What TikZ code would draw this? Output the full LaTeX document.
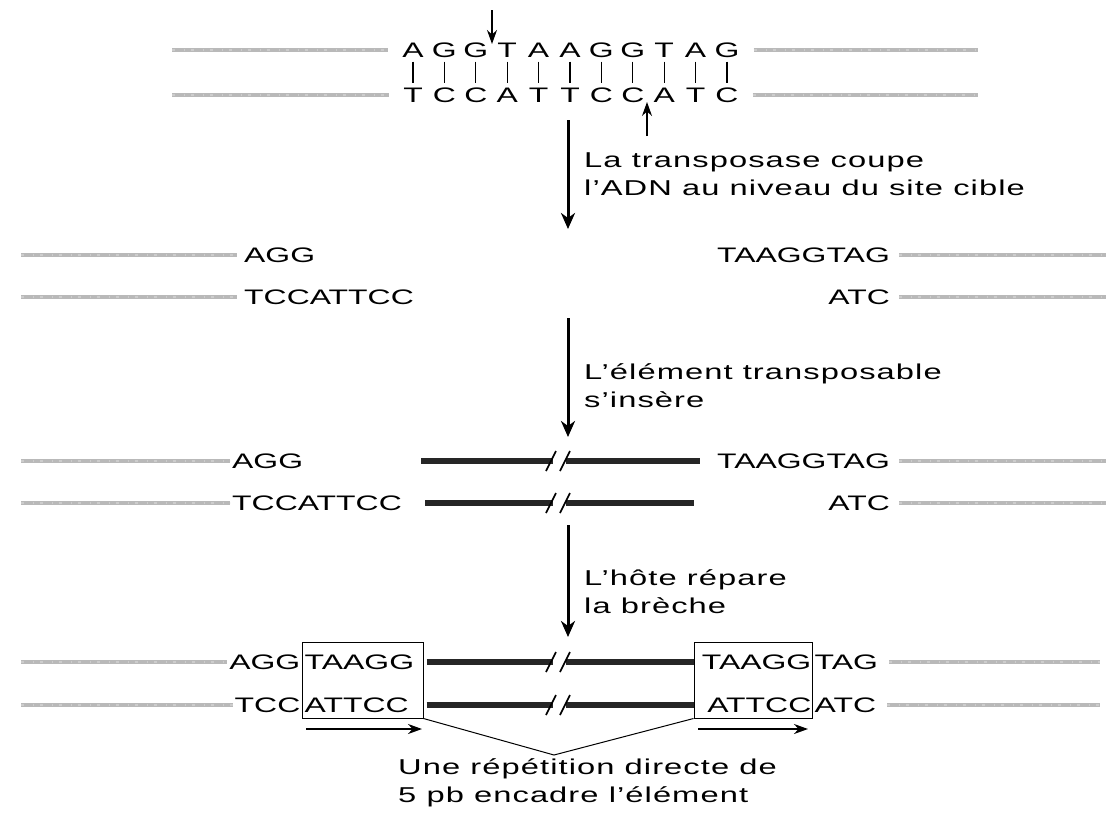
\documentclass[tikz,border=0pt]{standalone}
\usepackage{fontspec}
\setmainfont{Liberation Sans}[FakeStretch=1.52]
\usetikzlibrary{arrows.meta}
\begin{document}
\begin{tikzpicture}[x=1pt,y=-1pt,
  dna/.style={inner sep=0pt, text height=15pt, text depth=0pt, font=\fontsize{21}{25}\selectfont},
  lab/.style={inner sep=0pt, align=left, font=\fontsize{21.5}{28}\selectfont\addfontfeature{LetterSpace=5}},
  strand/.style={line width=4.5pt, gray!55, postaction={draw=gray!40, line width=1.2pt, dash pattern=on 3pt off 9pt on 1pt off 6pt}},
  elem/.style={line width=5.5pt, black!85},
  slash/.style={line width=1.6pt, black},
  bigarrow/.style={line width=3pt, -{Stealth[length=16pt,width=14pt,inset=5pt]}},
  cutarrow/.style={line width=1.4pt, -{Stealth[length=14pt,width=10pt]}},
  reparrow/.style={line width=2pt, -{Stealth[length=14pt,width=10pt]}},
  repbox/.style={draw, line width=1pt, minimum height=76pt, inner sep=0pt},
]
\useasboundingbox (0,0) rectangle (1106,812);

% ---------- Row 1 : target site ----------
\foreach \L [count=\i from 0] in {A,G,G,T,A,A,G,G,T,A,G}
  \node[dna] (t\i) at ({413+31.4*\i},50) {\L};
\foreach \L [count=\i from 0] in {T,C,C,A,T,T,C,C,A,T,C}
  \node[dna] (b\i) at ({413+31.4*\i},95) {\L};
\foreach \i in {0,...,10}
  \draw[line width=1.2pt] ([yshift=-4pt]t\i.south) -- ([yshift=4pt]b\i.north);
\coordinate (g1a) at (172,50);
\coordinate (g1b) at (172,95);
\coordinate (g1c) at (978,50);
\coordinate (g1d) at (978,95);
\draw[strand] (g1a) -- ([xshift=-14pt]t0.west);
\draw[strand] (g1b) -- ([xshift=-14pt]b0.west);
\draw[strand] ([xshift=14pt]t10.east) -- (g1c);
\draw[strand] ([xshift=14pt]b10.east) -- (g1d);
\coordinate (c1s) at (492,10);
\coordinate (c1e) at (492,44);
\draw[cutarrow] (c1s) -- (c1e);
\coordinate (c2s) at (647,136);
\coordinate (c2e) at (647,102);
\draw[cutarrow] (c2s) -- (c2e);

% ---------- Arrow 1 ----------
\coordinate (a1s) at (568,120);
\coordinate (a1e) at (568,229);
\draw[bigarrow] (a1s) -- (a1e);
\node[lab, anchor=west] (l1) at (584,174) {La transposase coupe\\l’ADN au niveau du site cible};

% ---------- Row 2 : cut ----------
\node[dna, anchor=west] (r2a) at (244,255) {AGG};
\node[dna, anchor=west] (r2b) at (244,297) {TCCATTCC};
\node[dna, anchor=east] (r2c) at (890,255) {TAAGGTAG};
\node[dna, anchor=east] (r2d) at (890,297) {ATC};
\coordinate (g2a) at (21,255);
\coordinate (g2b) at (21,297);
\coordinate (g2c) at (1106,255);
\coordinate (g2d) at (1106,297);
\draw[strand] (g2a) -- ([xshift=-7pt]r2a.west);
\draw[strand] (g2b) -- ([xshift=-7pt]r2b.west);
\draw[strand] ([xshift=9pt]r2c.east) -- (g2c);
\draw[strand] ([xshift=9pt]r2d.east) -- (g2d);

% ---------- Arrow 2 ----------
\coordinate (a2s) at (568,318);
\coordinate (a2e) at (568,437);
\draw[bigarrow] (a2s) -- (a2e);
\node[lab, anchor=west] (l2) at (584,386) {L’élément transposable\\s’insère};

% ---------- Row 3 : insertion ----------
\node[dna, anchor=west] (r3a) at (232,461) {AGG};
\node[dna, anchor=west] (r3b) at (232,503) {TCCATTCC};
\node[dna, anchor=east] (r3c) at (890,461) {TAAGGTAG};
\node[dna, anchor=east] (r3d) at (890,503) {ATC};
\coordinate (g3a) at (21,461);
\coordinate (g3b) at (21,503);
\coordinate (g3c) at (1106,461);
\coordinate (g3d) at (1106,503);
\draw[strand] (g3a) -- ([xshift=-2pt]r3a.west);
\draw[strand] (g3b) -- ([xshift=-2pt]r3b.west);
\draw[strand] ([xshift=9pt]r3c.east) -- (g3c);
\draw[strand] ([xshift=9pt]r3d.east) -- (g3d);
\coordinate (e3a) at (421,461);
\coordinate (e3b) at (553,461);
\coordinate (e3c) at (566,461);
\coordinate (e3d) at (700,461);
\coordinate (e3e) at (425,503);
\coordinate (e3f) at (553,503);
\coordinate (e3g) at (566,503);
\coordinate (e3h) at (694,503);
\draw[elem] (e3a) -- (e3b);
\draw[elem] (e3c) -- (e3d);
\draw[elem] (e3e) -- (e3f);
\draw[elem] (e3g) -- (e3h);
\foreach \yy in {461,503}{
  \draw[slash] (546,\yy+10) -- (556,\yy-10);
  \draw[slash] (560,\yy+10) -- (570,\yy-10);
}

% ---------- Arrow 3 ----------
\coordinate (a3s) at (568,525);
\coordinate (a3e) at (568,637);
\draw[bigarrow] (a3s) -- (a3e);
\node[lab, anchor=west] (l3) at (584,592) {L’hôte répare\\la brèche};

% ---------- Row 4 : repaired ----------
\node[repbox, minimum width=121pt] (boxL) at (362.5,680) {};
\node[repbox, minimum width=118pt] (boxR) at (753,680) {};
\node[dna, anchor=west] (r4l1) at ([xshift=3pt]boxL.west |- 0,662) {TAAGG};
\node[dna, anchor=west] (r4l2) at ([xshift=3pt]boxL.west |- 0,705) {ATTCC};
\node[dna, anchor=east] (r4r1) at ([xshift=-1pt]boxR.east |- 0,662) {TAAGG};
\node[dna, anchor=east] (r4r2) at ([xshift=-1pt]boxR.east |- 0,705) {ATTCC};
\node[dna, anchor=east] (r4a) at ([xshift=-1pt]boxL.west |- 0,662) {AGG};
\node[dna, anchor=east] (r4b) at ([xshift=-1pt]boxL.west |- 0,705) {TCC};
\node[dna, anchor=west] (r4c) at ([xshift=2pt]boxR.east |- 0,662) {TAG};
\node[dna, anchor=west] (r4d) at ([xshift=2pt]boxR.east |- 0,705) {ATC};
\coordinate (g4a) at (21,662);
\coordinate (g4b) at (21,705);
\coordinate (g4c) at (1100,662);
\coordinate (g4d) at (1100,705);
\draw[strand] (g4a) -- ([xshift=-2pt]r4a.west);
\draw[strand] (g4b) -- ([xshift=-2pt]r4b.west);
\draw[strand] ([xshift=11pt]r4c.east) -- (g4c);
\draw[strand] ([xshift=11pt]r4d.east) -- (g4d);
\coordinate (e4b) at (553,662);
\coordinate (e4c) at (566,662);
\coordinate (e4f) at (553,705);
\coordinate (e4g) at (566,705);
\draw[elem] ([xshift=3pt]boxL.east |- 0,662) -- (e4b);
\draw[elem] (e4c) -- (boxR.west |- 0,662);
\draw[elem] ([xshift=3pt]boxL.east |- 0,705) -- (e4f);
\draw[elem] (e4g) -- (boxR.west |- 0,705);
\foreach \yy in {662,705}{
  \draw[slash] (546,\yy+10) -- (556,\yy-10);
  \draw[slash] (560,\yy+10) -- (570,\yy-10);
}
\coordinate (p1s) at (306,729);
\coordinate (p1e) at (422,729);
\coordinate (p2s) at (698,729);
\coordinate (p2e) at (808,729);
\draw[reparrow] (p1s) -- (p1e);
\draw[reparrow] (p2s) -- (p2e);
\coordinate (apex) at (554,755);
\draw[line width=1pt] (boxL.south east) -- (apex) -- (boxR.south west);
\node[lab, anchor=north west] (l4) at (398,758) {Une répétition directe de\\5 pb encadre l’élément};
\end{tikzpicture}
\end{document}
